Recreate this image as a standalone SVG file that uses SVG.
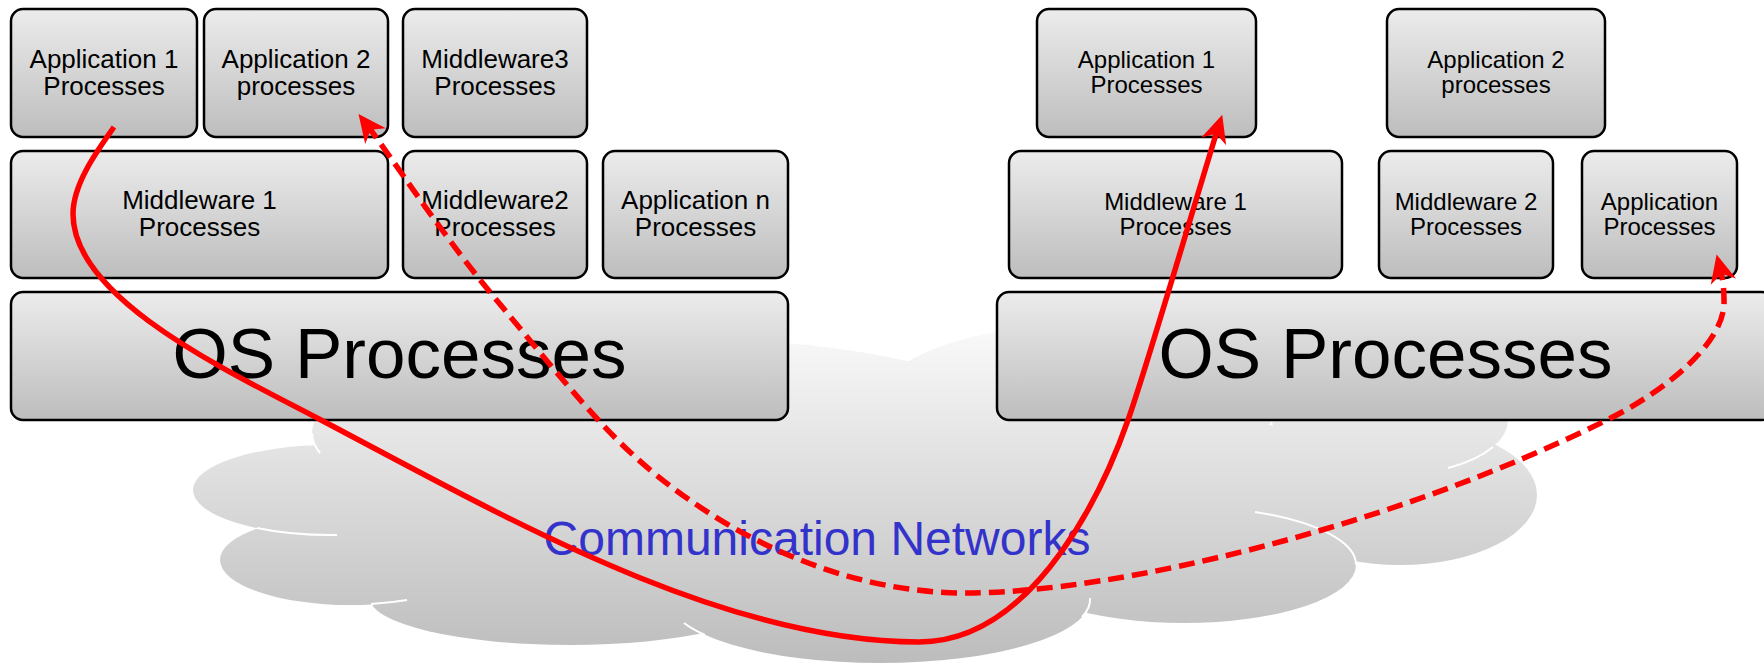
<svg xmlns="http://www.w3.org/2000/svg" width="1764" height="664" viewBox="0 0 1764 664">
  <style>
    .box { fill: url(#boxFill); stroke: #000; stroke-width: 2.5; }
    .lbl { font-family: "Liberation Sans", Arial, sans-serif; text-anchor: middle; fill: #000; }
    .s26 { font-size: 26px; }
    .s24 { font-size: 24px; }
    .big { font-size: 71px; }
    .net { font-family: "Liberation Sans", Arial, sans-serif; font-size: 48px; text-anchor: middle; fill: #3333cc; }
    .lobe { fill: url(#cloudFill); }
    .seam { fill: none; stroke: #ffffff; stroke-width: 2; }
    .link { fill: none; stroke: #ff0000; stroke-width: 5.5; }
    .dash { stroke-dasharray: 16 8; }
  </style>
  <defs>
    <linearGradient id="boxFill" x1="0" y1="0" x2="0" y2="1">
      <stop offset="0" stop-color="#ececec"/>
      <stop offset="1" stop-color="#bdbdbd"/>
    </linearGradient>
    <linearGradient id="cloudFill" gradientUnits="userSpaceOnUse" x1="0" y1="330" x2="0" y2="664">
      <stop offset="0" stop-color="#f9f9f9"/>
      <stop offset="1" stop-color="#bcbcbc"/>
    </linearGradient>
    <marker id="arrowHead" viewBox="-30 -15 33 30" refX="-13" refY="0" markerUnits="userSpaceOnUse" markerWidth="33" markerHeight="30" orient="auto-start-reverse">
      <path d="M1,0 L-27,-13 L-19,0 L-27,13 Z" fill="#ff0000"/>
    </marker>
  </defs>

  <!-- network cloud, built from overlapping lobes -->
  <g id="cloud">
    <ellipse class="lobe" cx="672" cy="433" rx="360" ry="95"/>
    <ellipse class="lobe" cx="1080" cy="400" rx="200" ry="75"/>
    <ellipse class="lobe" cx="1390" cy="420" rx="118" ry="55"/>
    <ellipse class="lobe" cx="1400" cy="495" rx="137" ry="70"/>
    <ellipse class="lobe" cx="1184" cy="565" rx="172" ry="58"/>
    <ellipse class="lobe" cx="880" cy="600" rx="210" ry="63"/>
    <ellipse class="lobe" cx="570" cy="598" rx="200" ry="47"/>
    <ellipse class="lobe" cx="350" cy="560" rx="130" ry="45"/>
    <ellipse class="lobe" cx="330" cy="490" rx="137" ry="45"/>
    <ellipse class="lobe" cx="850" cy="490" rx="500" ry="120"/>
    <path class="seam" d="M312,433 A360,95 0 0 0 320,453"/>
    <path class="seam" d="M257,528 A137,45 0 0 0 337,535"/>
    <path class="seam" d="M371,604 A130,45 0 0 0 407,600"/>
    <path class="seam" d="M684,623 A210,63 0 0 0 705,635"/>
    <path class="seam" d="M1090,598 A210,63 0 0 1 1082,617"/>
    <path class="seam" d="M1255,512 A172,58 0 0 1 1356,565"/>
    <path class="seam" d="M1448,468 A118,55 0 0 0 1493,447"/>
    <text class="net" x="817" y="555">Communication Networks</text>
  </g>

  <!-- left host -->
  <g id="left-app1">
    <rect class="box" x="11" y="9" width="186" height="128" rx="12"/>
    <text class="lbl s26" x="104" y="68">Application 1</text>
    <text class="lbl s26" x="104" y="95">Processes</text>
  </g>
  <g id="left-app2">
    <rect class="box" x="204" y="9" width="184" height="128" rx="12"/>
    <text class="lbl s26" x="296" y="68">Application 2</text>
    <text class="lbl s26" x="296" y="95">processes</text>
  </g>
  <g id="left-mw3">
    <rect class="box" x="403" y="9" width="184" height="128" rx="12"/>
    <text class="lbl s26" x="495" y="68">Middleware3</text>
    <text class="lbl s26" x="495" y="95">Processes</text>
  </g>
  <g id="left-mw1">
    <rect class="box" x="11" y="151" width="377" height="127" rx="12"/>
    <text class="lbl s26" x="199.5" y="209">Middleware 1</text>
    <text class="lbl s26" x="199.5" y="236">Processes</text>
  </g>
  <g id="left-mw2">
    <rect class="box" x="403" y="151" width="184" height="127" rx="12"/>
    <text class="lbl s26" x="495" y="209">Middleware2</text>
    <text class="lbl s26" x="495" y="236">Processes</text>
  </g>
  <g id="left-appn">
    <rect class="box" x="603" y="151" width="185" height="127" rx="12"/>
    <text class="lbl s26" x="695.5" y="209">Application n</text>
    <text class="lbl s26" x="695.5" y="236">Processes</text>
  </g>
  <g id="left-os">
    <rect class="box" x="11" y="292" width="777" height="128" rx="12"/>
    <text class="lbl big" x="399.5" y="378">OS Processes</text>
  </g>

  <!-- right host -->
  <g id="right-app1">
    <rect class="box" x="1037" y="9" width="219" height="128" rx="12"/>
    <text class="lbl s24" x="1146.5" y="68">Application 1</text>
    <text class="lbl s24" x="1146.5" y="93">Processes</text>
  </g>
  <g id="right-app2">
    <rect class="box" x="1387" y="9" width="218" height="128" rx="12"/>
    <text class="lbl s24" x="1496" y="68">Application 2</text>
    <text class="lbl s24" x="1496" y="93">processes</text>
  </g>
  <g id="right-mw1">
    <rect class="box" x="1009" y="151" width="333" height="127" rx="12"/>
    <text class="lbl s24" x="1175.5" y="210">Middleware 1</text>
    <text class="lbl s24" x="1175.5" y="235">Processes</text>
  </g>
  <g id="right-mw2">
    <rect class="box" x="1379" y="151" width="174" height="127" rx="12"/>
    <text class="lbl s24" x="1466" y="210">Middleware 2</text>
    <text class="lbl s24" x="1466" y="235">Processes</text>
  </g>
  <g id="right-app">
    <rect class="box" x="1582" y="151" width="155" height="127" rx="12"/>
    <text class="lbl s24" x="1659.5" y="210">Application</text>
    <text class="lbl s24" x="1659.5" y="235">Processes</text>
  </g>
  <g id="right-os">
    <rect class="box" x="997" y="292" width="777" height="128" rx="12"/>
    <text class="lbl big" x="1385.5" y="378">OS Processes</text>
  </g>

  <!-- message paths -->
  <g id="connectors">
    <path class="link" marker-end="url(#arrowHead)"
          d="M114,127 C97,151 73,184 73,214 C73,300 232,373 321,420 C498,513 719,642 919,642 C1039,642 1108,477 1128,420 C1145,373 1204,172 1218,128"/>
    <path class="link dash" marker-start="url(#arrowHead)" marker-end="url(#arrowHead)"
          d="M367,125 C390,155 440,232 494,297 S590,415 631,453 C692,510 816,593 966,593 S1392,527 1607,420 C1671,388 1726,340 1724,300 C1724,285 1722,276 1720,268"/>
  </g>
</svg>
